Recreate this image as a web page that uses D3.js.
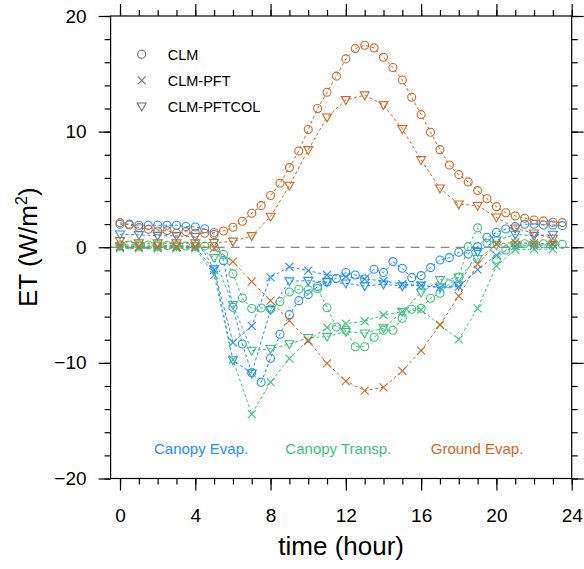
<!DOCTYPE html>
<html><head><meta charset="utf-8">
<script src="https://cdn.jsdelivr.net/npm/d3@7"></script>
<style>body{margin:0;background:#fff}svg{display:block}text{font-family:"Liberation Sans",Arial,Helvetica,sans-serif}</style>
</head><body>
<svg id="c" width="584" height="569"></svg>
<script>
const halfHours = d3.range(0, 24, 0.5);
const hours = d3.range(0, 24, 1);

// Ground evaporation
const clmGround = [2.13,1.93,1.70,1.55,1.41,1.44,1.21,1.35,1.21,1.21,1.27,1.41,1.73,2.25,2.94,3.60,4.47,5.53,6.89,8.33,10.18,12.0,13.4,14.8,16.29,17.18,17.47,17.24,16.43,15.54,14.47,12.97,11.47,9.95,8.44,7.12,6.28,5.65,4.90,4.20,3.51,2.99,2.71,2.51,2.36,2.28,2.16,2.13];
const pftGround = [0.1,0.05,0.05,0.05,0.05,-0.1,-1.24,-2.97,-4.62,-6.35,-8.1,-10.04,-11.57,-12.4,-12.11,-10.7,-8.94,-6.72,-4.22,-1.45,0.3,0.4,0.35,0.3];
const colGround = [0.55,0.35,0.35,0.35,0.35,0.4,0.5,0.98,2.65,5.33,8.42,11.24,12.74,13.15,12.31,10.23,7.55,5.1,3.72,3.6,2.59,1.64,1.21,0.75];

// Canopy evaporation
const clmCanEvap = [2.0,2.0,1.9,1.9,1.9,1.9,1.9,1.8,1.75,1.6,1.1,-1.16,-5.19,-8.37,-10.85,-11.68,-9.6,-7.53,-5.83,-4.62,-4.1,-3.4,-3.0,-2.68,-2.19,-2.4,-2.74,-1.9,-2.19,-1.24,-1.82,-2.63,-2.45,-1.76,-1.1,-0.9,-0.43,-0.58,0.05,0.86,1.27,1.58,1.78,1.99,1.99,1.93,1.93,1.87];
const pftCanEvap = [0.0,0.0,0.0,0.0,0.0,-1.96,-8.25,-6.8,-2.6,-1.7,-2.02,-2.4,-2.54,-2.75,-2.9,-3.2,-3.3,-3.5,-3.4,-1.93,-0.7,0.1,0.15,0.2];
const colCanEvap = [1.12,1.07,1.0,0.98,0.9,-1.9,-9.75,-10.9,-5.42,-2.93,-2.89,-3.0,-3.12,-3.35,-3.2,-3.35,-3.3,-3.46,-3.3,-0.4,0.6,1.1,1.0,1.1];

// Canopy transpiration
const clmTransp = [0.2,0.2,0.2,0.2,0.2,0.15,0.15,0.1,0.1,0.1,0.05,-0.62,-2.3,-4.4,-5.3,-5.25,-5.34,-4.7,-3.87,-3.63,-3.69,-3.58,-5.23,-6.9,-7.18,-8.6,-8.6,-7.79,-7.18,-7.18,-6.14,-5.36,-5.28,-4.41,-3.98,-3.17,-2.57,0.05,1.68,0.35,-1.04,-0.23,0.3,0.3,0.3,0.3,0.3,0.25];
const pftTransp = [-0.1,-0.1,-0.1,-0.1,-0.1,-2.4,-9.75,-14.43,-11.66,-9.63,-8.05,-6.93,-6.6,-6.4,-5.86,-5.57,-5.42,-6.72,-7.96,-5.28,-1.62,-0.2,-0.17,-0.17];
const colTransp = [0.1,0.1,0.1,0.1,0.1,-0.92,-4.99,-8.94,-8.78,-8.37,-7.83,-7.73,-7.3,-7.44,-7.0,-5.57,-3.92,-2.83,-2.6,-1.0,0.2,0.2,0.2,0.2];

const xMajorTicks = [0,4,8,12,16,20,24];
const xMinorTicks = d3.range(0, 25, 1);
const yMajorTicks = [-20,-10,0,10,20];
const yMinorTicks = d3.range(-20, 21, 2);
const modelNames = ["CLM","CLM-PFT","CLM-PFTCOL"];
const componentNames = ["Canopy Evap.","Canopy Transp.","Ground Evap."];
const componentColors = ["#1E90FF","#3CC47C","#D2691E"];
const componentLabelX = [4.31, 11.6, 18.97];

const svg = d3.select("#c");
const L = 110.6, R = 571.7, T = 16, B = 478.5;
const x = d3.scaleLinear().domain([-0.5, 24]).range([L, R]);
const y = d3.scaleLinear().domain([-20, 20]).range([B, T]);

// zero line
svg.append("line").attr("x1", L).attr("x2", R).attr("y1", y(0)).attr("y2", y(0))
  .attr("stroke", "#666").attr("stroke-width", 1.2).attr("stroke-dasharray", "9,6");

const series = [
  {name:0, comp:0, xs:halfHours, ys:clmCanEvap},
  {name:1, comp:0, xs:hours, ys:pftCanEvap},
  {name:2, comp:0, xs:hours, ys:colCanEvap},
  {name:0, comp:1, xs:halfHours, ys:clmTransp},
  {name:1, comp:1, xs:hours, ys:pftTransp},
  {name:2, comp:1, xs:hours, ys:colTransp},
  {name:0, comp:2, xs:halfHours, ys:clmGround},
  {name:1, comp:2, xs:hours, ys:pftGround},
  {name:2, comp:2, xs:hours, ys:colGround},
];

function marker(g, type, color) {
  if (type === 0) {
    g.append("circle").attr("r", 4).attr("fill", "none").attr("stroke", color).attr("stroke-width", 1.1);
  } else if (type === 1) {
    g.append("path").attr("d", "M-4,-4L4,4M-4,4L4,-4").attr("fill", "none").attr("stroke", color).attr("stroke-width", 1.1);
  } else {
    g.append("path").attr("d", "M-4.5,-3.3L4.5,-3.3L0,4.6Z").attr("fill", "none").attr("stroke", color).attr("stroke-width", 1.1);
  }
}

const line = d3.line().x(d => x(d[0])).y(d => y(d[1]));
series.forEach(s => {
  const pts = s.xs.map((h, i) => [h, s.ys[i]]);
  const col = componentColors[s.comp];
  svg.append("path").attr("d", line(pts)).attr("fill", "none").attr("stroke", col)
    .attr("stroke-width", 1).attr("stroke-dasharray", "3,2.5");
  pts.forEach(p => {
    const g = svg.append("g").attr("transform", `translate(${x(p[0])},${y(p[1])})`);
    marker(g, s.name, col);
  });
});

// frame
svg.append("rect").attr("x", L).attr("y", T).attr("width", R - L).attr("height", B - T)
  .attr("fill", "none").attr("stroke", "#000").attr("stroke-width", 1.2);

function styleAxis(g) {
  g.select(".domain").remove();
  g.selectAll("line").attr("stroke", "#000").attr("stroke-width", 1.2);
}
const fs = "19px";
svg.append("g").attr("transform", `translate(0,${B})`)
  .call(d3.axisBottom(x).tickValues(xMinorTicks).tickSize(6).tickFormat("")).call(styleAxis);
svg.append("g").attr("transform", `translate(0,${B})`)
  .call(d3.axisBottom(x).tickValues(xMajorTicks).tickSize(12).tickPadding(18).tickFormat(d3.format("d")))
  .call(styleAxis).selectAll("text").attr("font-size", fs).attr("fill", "#000");
svg.append("g").attr("transform", `translate(0,${T})`)
  .call(d3.axisTop(x).tickValues(xMinorTicks).tickSize(6).tickFormat("")).call(styleAxis);
svg.append("g").attr("transform", `translate(0,${T})`)
  .call(d3.axisTop(x).tickValues(xMajorTicks).tickSize(12).tickFormat("")).call(styleAxis);

svg.append("g").attr("transform", `translate(${L},0)`)
  .call(d3.axisLeft(y).tickValues(yMinorTicks).tickSize(6).tickFormat("")).call(styleAxis);
svg.append("g").attr("transform", `translate(${L},0)`)
  .call(d3.axisLeft(y).tickValues(yMajorTicks).tickSize(12).tickPadding(12).tickFormat(d3.format("d")))
  .call(styleAxis).selectAll("text").attr("font-size", fs).attr("fill", "#000");
svg.append("g").attr("transform", `translate(${R},0)`)
  .call(d3.axisRight(y).tickValues(yMinorTicks).tickSize(6).tickFormat("")).call(styleAxis);
svg.append("g").attr("transform", `translate(${R},0)`)
  .call(d3.axisRight(y).tickValues(yMajorTicks).tickSize(12).tickFormat("")).call(styleAxis);

// axis titles
svg.append("text").attr("x", (L + R) / 2).attr("y", 555).attr("text-anchor", "middle")
  .attr("font-size", "26px").text("time (hour)");
const yt = svg.append("text").attr("transform", `translate(37,${(T + B) / 2}) rotate(-90)`)
  .attr("text-anchor", "middle").attr("font-size", "26px");
yt.append("tspan").text("ET (W/m");
yt.append("tspan").attr("font-size", "16px").attr("dy", "-10").text("2");
yt.append("tspan").attr("dy", "10").text(")");

// legend
const lg = svg.append("g");
modelNames.forEach((n, i) => {
  const cy = 54.3 + i * 26;
  const g = lg.append("g").attr("transform", `translate(141.7,${cy})`);
  marker(g, i, "#707070");
  lg.append("text").attr("x", 167.7).attr("y", cy).attr("dy", "0.36em")
    .attr("font-size", "14.5px").attr("fill", "#000").text(n);
});

// component labels
componentNames.forEach((n, i) => {
  svg.append("text").attr("x", x(componentLabelX[i])).attr("y", y(-17.39)).attr("dy", "0.36em")
    .attr("text-anchor", "middle").attr("font-size", "15px").attr("fill", componentColors[i]).text(n);
});
</script>
</body></html>
